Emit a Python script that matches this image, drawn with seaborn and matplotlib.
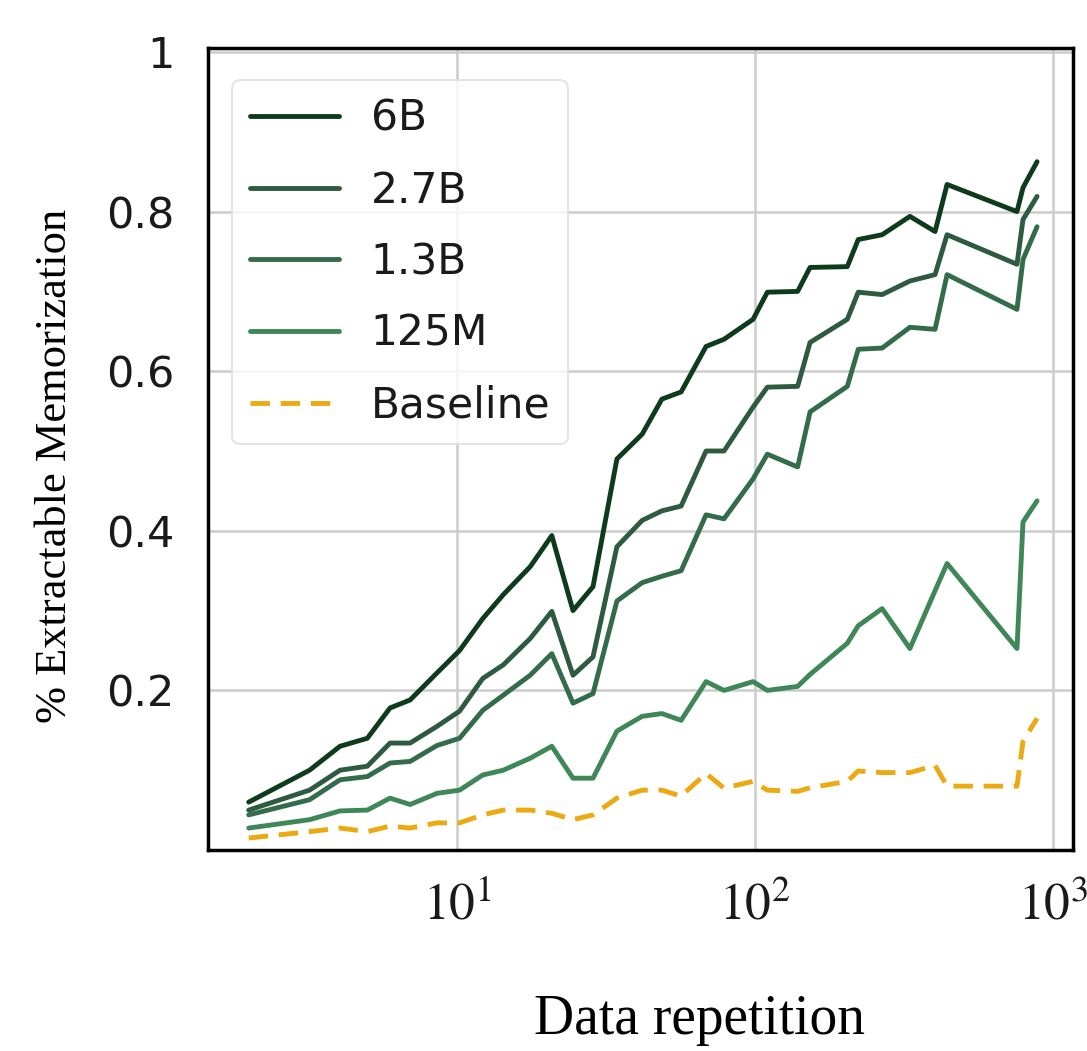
import numpy as np
import pandas as pd
import seaborn as sns
import matplotlib.pyplot as plt

# x positions (data repetition)
repetition = [2, 3.2, 4.05, 5, 5.96, 6.96, 8.57, 10.2, 12.2, 14.3, 17.6, 20.8,
              24.5, 28.6, 34.4, 41.8, 48.7, 56.5, 68.5, 78.7, 98.5, 110, 139,
              153, 204, 222, 267, 331, 402, 441, 757, 793, 884]

mem_6b = [0.06, 0.10, 0.13, 0.14, 0.178, 0.188, 0.222, 0.25, 0.29, 0.32, 0.355,
          0.394, 0.30, 0.33, 0.49, 0.521, 0.565, 0.574, 0.631, 0.64, 0.665,
          0.699, 0.70, 0.73, 0.731, 0.765, 0.771, 0.794, 0.775, 0.834, 0.80,
          0.83, 0.8625]
mem_2_7b = [0.050, 0.075, 0.10, 0.105, 0.134, 0.134, 0.155, 0.174, 0.215, 0.232,
            0.265, 0.299, 0.219, 0.242, 0.38, 0.413, 0.425, 0.431, 0.50, 0.50,
            0.555, 0.58, 0.581, 0.636, 0.665, 0.699, 0.696, 0.713, 0.721,
            0.771, 0.734, 0.79, 0.819]
mem_1_3b = [0.044, 0.063, 0.088, 0.092, 0.109, 0.111, 0.131, 0.14, 0.175, 0.194,
            0.219, 0.246, 0.184, 0.196, 0.312, 0.335, 0.343, 0.35, 0.42, 0.415,
            0.465, 0.496, 0.48, 0.549, 0.581, 0.6275, 0.629, 0.655, 0.6525,
            0.721, 0.6775, 0.74, 0.781]
mem_125m = [0.0275, 0.038, 0.049, 0.05, 0.065, 0.057, 0.071, 0.075, 0.094, 0.10,
            0.115, 0.13, 0.09, 0.09, 0.149, 0.1675, 0.171, 0.1625, 0.211, 0.20,
            0.211, 0.20, 0.205, 0.22, 0.259, 0.281, 0.3025, 0.2525, 0.325,
            0.359, 0.2525, 0.411, 0.4375]
baseline = [0.015, 0.023, 0.0275, 0.023, 0.03, 0.0275, 0.034, 0.034, 0.044, 0.05,
            0.05, 0.046, 0.038, 0.044, 0.065, 0.075, 0.075, 0.0675, 0.096,
            0.0775, 0.086, 0.075, 0.0735, 0.078, 0.086, 0.099, 0.097, 0.097,
            0.106, 0.08, 0.08, 0.136, 0.165]

models = ['6B', '2.7B', '1.3B', '125M', 'Baseline']
series = [mem_6b, mem_2_7b, mem_1_3b, mem_125m, baseline]
colors = ['#0f3b1d', '#2d5a41', '#336c4b', '#3f8759', '#ebaa12']

rows = []
for name, vals in zip(models, series):
    for r, v in zip(repetition, vals):
        rows.append({'rep': r, 'mem': v, 'model': name})
df = pd.DataFrame(rows)

sns.set_theme(style='whitegrid')
plt.rcParams['mathtext.fontset'] = 'stix'
plt.rcParams['text.color'] = '#1a1a1a'

fig = plt.figure(figsize=(10.87, 10.51), dpi=100)
ax = fig.add_axes([208 / 1087, 1 - 850 / 1051, 865 / 1087, 802 / 1051])

sns.lineplot(data=df, x='rep', y='mem', hue='model', style='model',
             hue_order=models, style_order=models,
             palette=dict(zip(models, colors)),
             dashes={'6B': '', '2.7B': '', '1.3B': '', '125M': '', 'Baseline': (4, 2.2)},
             ax=ax)
for ln in ax.lines:
    ln.set_linewidth(3.5)

ax.set_xscale('log')
ax.set_xlim(1.46, 1167)
ax.set_ylim(0.0, 1.005)
ax.set_yticks([0.2, 0.4, 0.6, 0.8, 1.0])
ax.set_yticklabels(['0.2', '0.4', '0.6', '0.8', '1'])
ax.set_xticks([10, 100, 1000])
ax.set_xticklabels([r'$10^1$', r'$10^2$', r'$10^3$'])
ax.minorticks_off()
ax.tick_params(axis='y', labelsize=31, pad=24, length=0, colors='#1a1a1a')
ax.tick_params(axis='x', labelsize=37, pad=22, length=0, colors='#1a1a1a')
ax.grid(True, color='#cccccc', linewidth=1.8)
for s in ax.spines.values():
    s.set_color('black')
    s.set_linewidth(2.5)

ax.set_xlabel('')
ax.set_ylabel('')
fig.text(699 / 1087, 1 - 1020 / 1051, 'Data repetition', family='Liberation Serif',
         fontsize=40, ha='center', va='center', color='black')
fig.text(55 / 1087, 1 - 466 / 1051, '% Extractable Memorization', family='Liberation Serif',
         fontsize=32, ha='center', va='center', rotation=90, color='black')

leg = ax.legend(loc='upper left', bbox_to_anchor=(0.028, 0.96), borderaxespad=0,
                fontsize=30.5, handlelength=2.1, handletextpad=0.75, borderpad=0.42,
                labelspacing=0.7, frameon=True, fancybox=True)
leg.get_frame().set_edgecolor('#dddddd')
leg.get_frame().set_linewidth(1.5)
for h in leg.get_lines():
    h.set_linewidth(3.5)

fig.savefig('out.png', dpi=100)
